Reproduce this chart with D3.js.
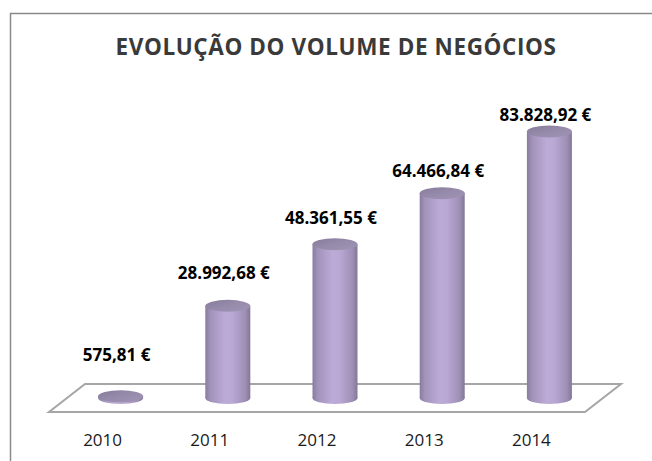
<!DOCTYPE html>
<html>
<head>
<meta charset="utf-8">
<script src="https://cdn.jsdelivr.net/npm/d3@7"></script>
<style>
  body { margin: 0; background: #fff; }
  svg { display: block; }
</style>
</head>
<body>
<svg id="chart"></svg>
<script>
// data
var years = ["2010", "2011", "2012", "2013", "2014"];
var values = [575.81, 28992.68, 48361.55, 64466.84, 83828.92];
var valueLabels = ["575,81 €", "28.992,68 €", "48.361,55 €", "64.466,84 €", "83.828,92 €"];
var title = "EVOLUÇÃO DO VOLUME DE NEGÓCIOS";

var width = 652, height = 461;
var svg = d3.select("#chart").attr("width", width).attr("height", height);

// outer chart frame, cut off on the right and bottom
svg.append("rect")
  .attr("x", 10.5).attr("y", 13.5)
  .attr("width", width).attr("height", height)
  .attr("fill", "#fff")
  .attr("stroke", "#8a8a8a")
  .attr("stroke-width", 1.5);

svg.append("text")
  .attr("x", 336).attr("y", 55)
  .attr("text-anchor", "middle")
  .attr("fill", "#3a3a3a")
  .style("font-family", "'Open Sans', sans-serif")
  .style("font-weight", "bold")
  .style("font-size", "22.5px")
  .style("letter-spacing", "0.6px")
  .text(title);

// front edge of the floor holds the category axis
var x = d3.scaleBand().domain(years).range([49, 585]);
var yFront = 412, yBack = 384, depthX = 36;
var yBase = (yFront + yBack) / 2;

var y = d3.scaleLinear().domain([0, 90000]).range([yBase, 112]);
// labels sit in the 3d scene, so they drift along their own scale
var yLabel = d3.scaleLinear().domain([0, 90000]).range([357, 97.5]);

var cx = d => x(d) + x.bandwidth() / 2 + depthX / 2;

// gradients
var defs = svg.append("defs");
var g = defs.append("linearGradient").attr("id", "body").attr("x1", 0).attr("x2", 1).attr("y1", 0).attr("y2", 0);
[[0, "#8a7c9f"], [0.12, "#a293bb"], [0.45, "#bcabd7"], [0.6, "#b9a8d4"], [0.88, "#9f90b7"], [1, "#837795"]]
  .forEach(s => g.append("stop").attr("offset", s[0]).attr("stop-color", s[1]));
var gt = defs.append("linearGradient").attr("id", "top").attr("x1", 0).attr("x2", 1).attr("y1", 0).attr("y2", 1);
[[0, "#877b9a"], [0.5, "#978bac"], [1, "#a094b5"]]
  .forEach(s => gt.append("stop").attr("offset", s[0]).attr("stop-color", s[1]));

// floor
var x0 = x.range()[0], x1 = x.range()[1];
svg.append("polygon")
  .attr("points", [[x0, yFront], [x1, yFront], [x1 + depthX, yBack], [x0 + depthX, yBack]].map(p => p.join(",")).join(" "))
  .attr("fill", "#fff")
  .attr("stroke", "#a6a6a6")
  .attr("stroke-width", 2)
  .attr("stroke-linejoin", "miter");

var rx = 22.5, ry = 6;
var bars = svg.append("g").selectAll("g")
  .data(years.map((d, i) => ({year: d, value: values[i], label: valueLabels[i]})))
  .join("g");

bars.append("ellipse")
  .attr("cx", d => cx(d.year)).attr("cy", yBase)
  .attr("rx", rx).attr("ry", ry)
  .attr("fill", "url(#body)");

bars.append("rect")
  .attr("x", d => cx(d.year) - rx)
  .attr("y", d => y(d.value))
  .attr("width", rx * 2)
  .attr("height", d => yBase - y(d.value))
  .attr("fill", "url(#body)");

bars.append("ellipse")
  .attr("cx", d => cx(d.year)).attr("cy", d => y(d.value))
  .attr("rx", rx).attr("ry", ry)
  .attr("fill", "url(#top)");

bars.append("text")
  .attr("x", d => cx(d.year) - 4)
  .attr("y", d => yLabel(d.value))
  .attr("dy", "0.35em")
  .attr("text-anchor", "middle")
  .attr("fill", "#000")
  .style("font-family", "'Open Sans', sans-serif")
  .style("font-weight", "bold")
  .style("font-size", "17px")
  .text(d => d.label);

// category labels under the front edge
svg.append("g").selectAll("text")
  .data(years)
  .join("text")
    .attr("x", d => x(d) + x.bandwidth() / 2)
    .attr("y", 440)
    .attr("dy", "0.35em")
    .attr("text-anchor", "middle")
    .attr("fill", "#1a1a1a")
    .style("font-family", "'Open Sans', sans-serif")
    .style("font-size", "17px")
    .text(d => d);
</script>
</body>
</html>
